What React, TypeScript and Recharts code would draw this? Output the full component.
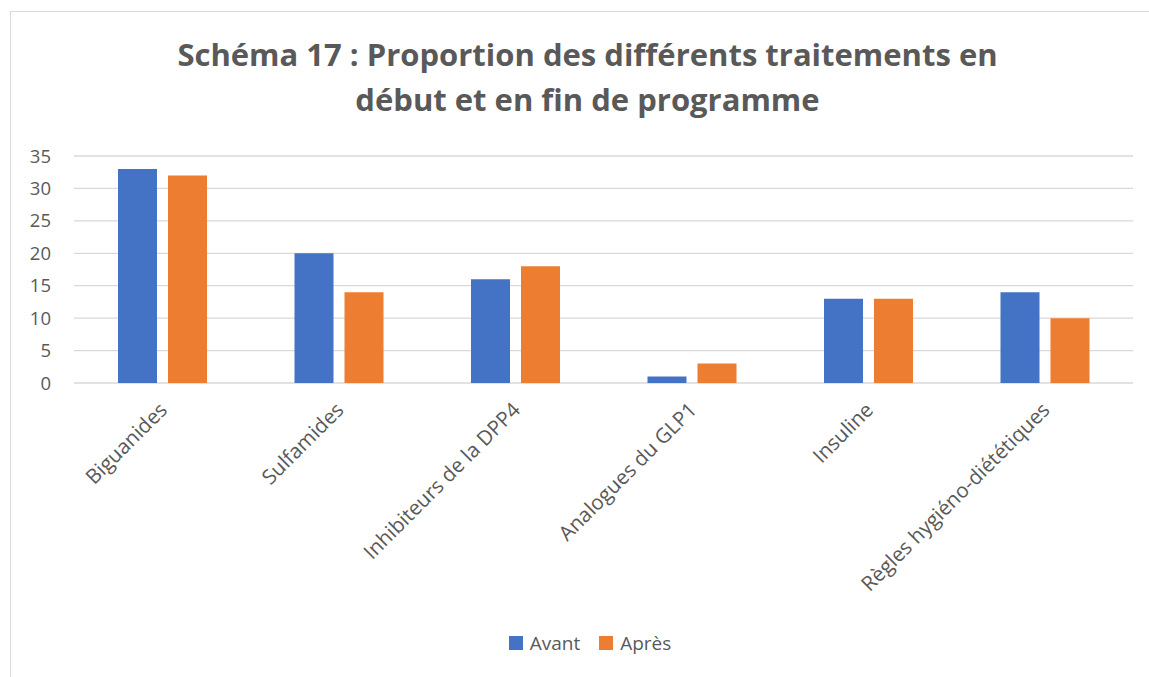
import React from 'react';
import { BarChart, Bar, XAxis, YAxis, CartesianGrid } from 'recharts';

const categories = ['Biguanides', 'Sulfamides', 'Inhibiteurs de la DPP4', 'Analogues du GLP1', 'Insuline', 'Règles hygiéno-diététiques'];
const avant = [33, 20, 16, 1, 13, 14];
const apres = [32, 14, 18, 3, 13, 10];
const yTicks = [0, 5, 10, 15, 20, 25, 30, 35];
const titleLines = ['Schéma 17 : Proportion des différents traitements en', 'début et en fin de programme'];

const data = categories.map((c, i) => ({ name: c, Avant: avant[i], Après: apres[i] }));

const FONT = '"Open Sans", Lato, sans-serif';
const GRAY = '#595959';

const XTick = (props: any) => {
  const { x, y, payload } = props;
  return (
    <g transform={`translate(${x + 2},${y + 24})`}>
      <text x={0} y={0} dy={6} textAnchor="end" transform="rotate(-45)" fill={GRAY} fontSize={20.5} fontFamily={FONT}>
        {payload.value}
      </text>
    </g>
  );
};

export default function App() {
  return (
    <div style={{ position: 'absolute', left: 0, top: 0, width: 1149, height: 677, background: '#fff', overflow: 'hidden' }}>
      <div style={{ position: 'absolute', left: 10, top: 11, width: 1150, height: 680, border: '1px solid #d9d9d9', boxSizing: 'border-box' }} />
      <div style={{ position: 'absolute', left: 10, top: 32, width: 1155, textAlign: 'center', fontFamily: FONT, fontWeight: 700, fontSize: 31, color: GRAY, lineHeight: '45px' }}>
        {titleLines.map((l, i) => (<div key={i}>{l}</div>))}
      </div>
      <div style={{ position: 'absolute', left: 0, top: 0 }}>
        <BarChart width={1149} height={677} data={data} margin={{ top: 156, left: 24, right: 16, bottom: 264 }} barCategoryGap={44} barGap={11}>
          <CartesianGrid vertical={false} stroke="#d9d9d9" strokeWidth={1.3} />
          <XAxis dataKey="name" axisLine={false} tickLine={false} tick={<XTick />} interval={0} height={30} tickSize={0} tickMargin={0} />
          <YAxis width={50} domain={[0, 35]} ticks={yTicks} axisLine={false} tickLine={false} tickSize={0} tickMargin={23}
            tick={{ fill: GRAY, fontSize: 18.5, fontFamily: FONT }} />
          <Bar dataKey="Avant" fill="#4472C4" isAnimationActive={false} />
          <Bar dataKey="Après" fill="#ED7D31" isAnimationActive={false} />
        </BarChart>
      </div>
      <div style={{ position: 'absolute', left: 80, top: 630, width: 1020, display: 'flex', justifyContent: 'center', alignItems: 'center', fontFamily: FONT, fontSize: 19, color: GRAY }}>
        <span style={{ display: 'inline-block', width: 14, height: 14, background: '#4472C4', marginRight: 7 }} />
        <span style={{ marginRight: 19 }}>Avant</span>
        <span style={{ display: 'inline-block', width: 14, height: 14, background: '#ED7D31', marginRight: 7 }} />
        <span>Après</span>
      </div>
    </div>
  );
}
